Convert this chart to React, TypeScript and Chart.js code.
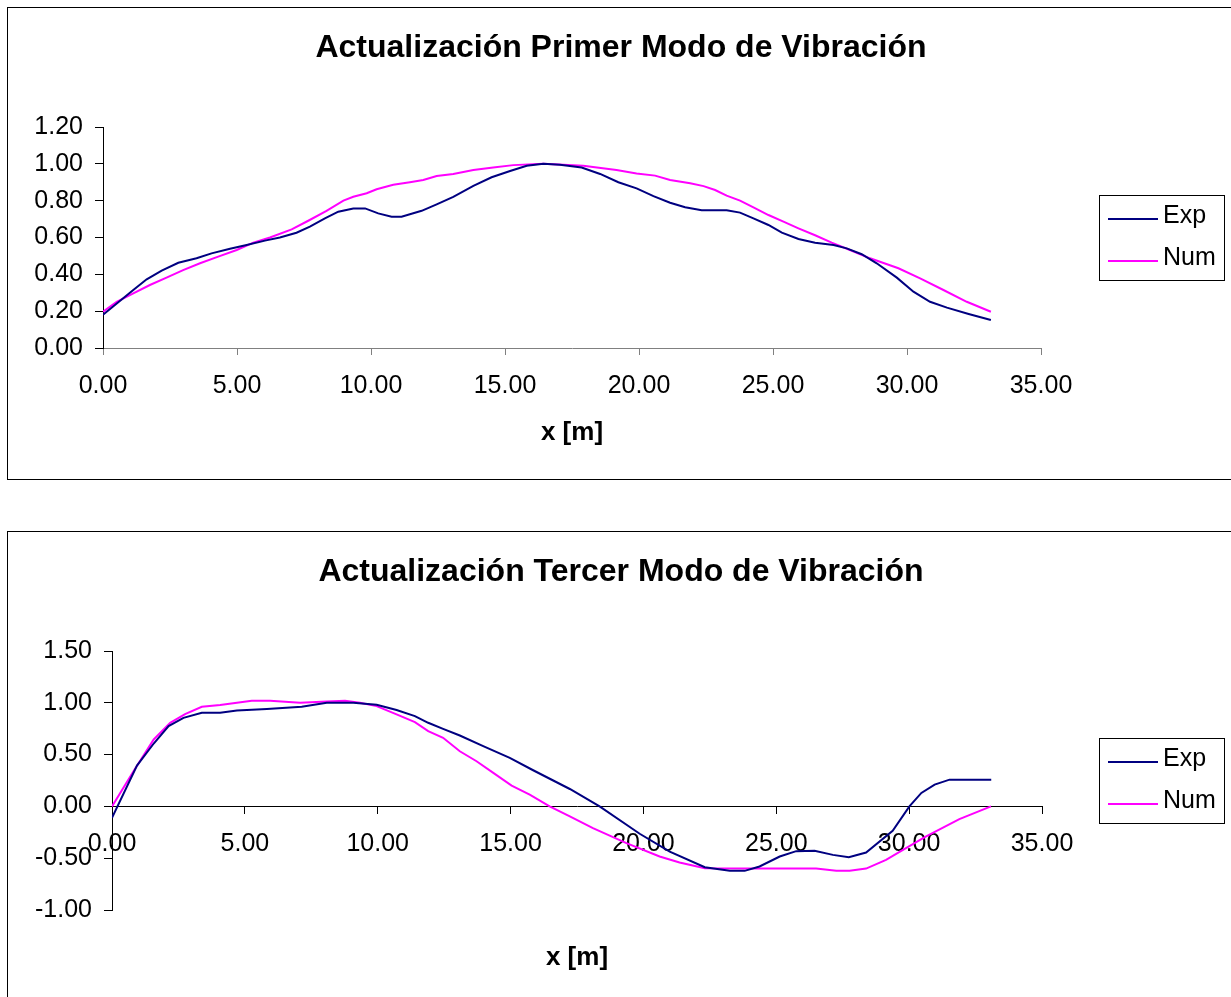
import React, { useEffect, useRef } from 'react';
import { Chart, registerables } from 'chart.js';

Chart.register(...registerables);

const FONT = '"Liberation Sans", Arial, sans-serif';

// ---------- Chart 1: Primer modo ----------
const TITLE_1 = 'Actualización Primer Modo de Vibración';
const exp1X = [0, 1.13, 1.63, 2.19, 2.81, 3.49, 4.05, 4.74, 5.36, 6.04, 6.6, 7.22, 7.72, 8.28, 8.78, 9.34, 9.78, 10.27, 10.77, 11.14, 11.89, 12.45, 13.07, 13.82, 14.5, 15.19, 15.81, 16.43, 17.05, 17.86, 18.55, 19.23, 19.91, 20.54, 21.16, 21.72, 22.34, 23.27, 23.77, 24.27, 24.83, 25.33, 25.95, 26.57, 27.26, 27.75, 28.31, 28.87, 29.62, 30.24, 30.86, 31.49, 32.3, 33.13];
const exp1Y = [0.18, 0.315, 0.373, 0.42, 0.463, 0.487, 0.514, 0.539, 0.559, 0.583, 0.6, 0.626, 0.659, 0.704, 0.74, 0.758, 0.758, 0.731, 0.713, 0.713, 0.745, 0.78, 0.821, 0.88, 0.927, 0.961, 0.99, 1.0, 0.995, 0.98, 0.945, 0.9, 0.867, 0.825, 0.789, 0.764, 0.748, 0.748, 0.735, 0.704, 0.668, 0.626, 0.592, 0.572, 0.559, 0.541, 0.509, 0.46, 0.382, 0.306, 0.251, 0.219, 0.185, 0.152];
const num1X = [0, 0.51, 1.13, 1.75, 2.37, 2.99, 3.62, 4.3, 4.99, 5.61, 6.23, 7.04, 7.66, 8.34, 8.97, 9.34, 9.84, 10.21, 10.83, 11.45, 11.95, 12.45, 13.07, 13.82, 14.56, 15.31, 16.43, 17.92, 19.16, 19.91, 20.6, 21.16, 21.91, 22.41, 22.84, 23.27, 23.77, 24.27, 24.83, 25.39, 25.95, 26.57, 27.19, 27.87, 28.62, 29.68, 30.49, 31.36, 32.23, 33.13];
const num1Y = [0.197, 0.25, 0.297, 0.342, 0.382, 0.423, 0.46, 0.496, 0.532, 0.572, 0.6, 0.644, 0.691, 0.745, 0.8, 0.821, 0.84, 0.862, 0.886, 0.9, 0.912, 0.934, 0.945, 0.966, 0.98, 0.993, 1.0, 0.99, 0.966, 0.948, 0.936, 0.912, 0.894, 0.879, 0.858, 0.827, 0.8, 0.764, 0.722, 0.686, 0.65, 0.612, 0.572, 0.532, 0.487, 0.433, 0.378, 0.315, 0.251, 0.197];
const y1Min = 0;
const y1Max = 1.2;
const y1Step = 0.2;

// ---------- Chart 2: Tercer modo ----------
const TITLE_2 = 'Actualización Tercer Modo de Vibración';
const exp2X = [0, 0.94, 1.57, 2.13, 2.69, 3.38, 4.07, 4.7, 5.83, 7.14, 8.08, 9.08, 9.96, 10.71, 11.4, 11.9, 12.46, 13.09, 13.97, 14.97, 15.85, 17.23, 18.35, 19.86, 20.99, 22.31, 23.25, 23.81, 24.37, 25.13, 25.75, 26.44, 27.13, 27.73, 28.38, 29.38, 30.01, 30.46, 30.96, 31.52, 33.09];
const exp2Y = [-0.11, 0.394, 0.607, 0.775, 0.855, 0.904, 0.904, 0.926, 0.94, 0.962, 1.0, 1.0, 0.981, 0.93, 0.872, 0.807, 0.749, 0.684, 0.581, 0.468, 0.349, 0.168, 0.0, -0.264, -0.436, -0.587, -0.622, -0.622, -0.58, -0.484, -0.432, -0.429, -0.468, -0.49, -0.445, -0.235, 0.0, 0.13, 0.21, 0.258, 0.258];
const num2X = [0, 0.81, 1.57, 2.19, 2.75, 3.38, 4.07, 5.26, 5.95, 7.08, 8.08, 8.77, 9.33, 9.96, 10.71, 11.4, 11.9, 12.46, 13.09, 13.72, 14.35, 15.04, 15.72, 16.47, 17.23, 18.1, 19.36, 20.61, 21.36, 22.31, 23.88, 26.5, 27.26, 27.76, 28.38, 29.13, 29.88, 30.64, 31.89, 33.08];
const num2Y = [0, 0.339, 0.646, 0.807, 0.891, 0.962, 0.978, 1.02, 1.02, 1.0, 1.013, 1.02, 1.0, 0.968, 0.888, 0.813, 0.726, 0.662, 0.532, 0.436, 0.323, 0.2, 0.113, 0.0, -0.097, -0.209, -0.354, -0.484, -0.542, -0.596, -0.6, -0.6, -0.622, -0.622, -0.6, -0.516, -0.403, -0.29, -0.122, 0.0];
const y2Min = -1.0;
const y2Max = 1.5;
const y2Step = 0.5;

// shared
const xMin = 0;
const xMax = 35;
const xStep = 5;
const X_TITLE = 'x [m]';
const SERIES = ['Exp', 'Num'];
const COLORS = ['#000080', '#FF00FF'];

const pts = (xs: number[], ys: number[]) => xs.map((x, i) => ({ x, y: ys[i] }));

const boxLegend = {
  id: 'boxLegend',
  afterDraw(chart: any, _args: any, opts: any) {
    const { ctx, chartArea } = chart;
    const w = opts.width;
    const h = opts.height;
    const left = Math.round(chartArea.right + opts.offsetX);
    const top = Math.round((chartArea.top + chartArea.bottom) / 2 - h / 2 + (opts.offsetY || 0));
    ctx.save();
    ctx.strokeStyle = '#000';
    ctx.lineWidth = 1;
    ctx.strokeRect(left + 0.5, top + 0.5, w, h);
    ctx.font = `${opts.fontSize}px ${FONT}`;
    ctx.textBaseline = 'middle';
    ctx.textAlign = 'left';
    chart.data.datasets.forEach((ds: any, i: number) => {
      const y = top + opts.firstRow + i * opts.rowGap;
      ctx.strokeStyle = ds.borderColor;
      ctx.lineWidth = ds.borderWidth;
      ctx.beginPath();
      ctx.moveTo(left + opts.lineStart, y);
      ctx.lineTo(left + opts.lineStart + opts.lineLen, y);
      ctx.stroke();
      ctx.fillStyle = '#000';
      ctx.fillText(ds.label, left + opts.textX, y - 3);
    });
    ctx.restore();
  },
};

function makeConfig(kind: 1 | 2): any {
  const isFirst = kind === 1;
  const expData = isFirst ? pts(exp1X, exp1Y) : pts(exp2X, exp2Y);
  const numData = isFirst ? pts(num1X, num1Y) : pts(num2X, num2Y);
  const tickFont = { family: FONT, size: 25 };
  const xAxisColor = isFirst ? '#808080' : '#000000';
  return {
    type: 'scatter',
    data: {
      datasets: [
        { label: SERIES[0], data: expData, borderColor: COLORS[0], backgroundColor: COLORS[0], borderWidth: 2, showLine: true, pointRadius: 0, tension: 0 },
        { label: SERIES[1], data: numData, borderColor: COLORS[1], backgroundColor: COLORS[1], borderWidth: 2, showLine: true, pointRadius: 0, tension: 0 },
      ],
    },
    plugins: [boxLegend],
    options: {
      responsive: false,
      animation: false,
      devicePixelRatio: 1,
      layout: { padding: { left: 0, right: 0, top: 0, bottom: isFirst ? 0 : 93 } },
      plugins: {
        legend: { display: false },
        tooltip: { enabled: false },
        title: {
          display: true,
          text: isFirst ? TITLE_1 : TITLE_2,
          color: '#000',
          font: { family: FONT, size: 32, weight: 'bold' },
          padding: { top: 20.8, bottom: 59.8 },
        },
        boxLegend: { width: 125, height: 85, offsetX: isFirst ? 58 : 57, offsetY: 0, fontSize: 25, firstRow: 24, rowGap: 42, lineStart: 9, lineLen: 50, textX: 64 },
      },
      scales: {
        x: {
          type: 'linear',
          position: isFirst ? 'bottom' : { y: 0 },
          min: xMin,
          max: xMax,
          ticks: { stepSize: xStep, color: '#000', font: tickFont, padding: 16, maxRotation: 0, callback: (v: number) => Number(v).toFixed(2) },
          grid: { display: true, drawOnChartArea: false, drawTicks: true, tickLength: 7, color: xAxisColor, lineWidth: 1 },
          border: { display: true, color: xAxisColor, width: 1 },
          title: { display: true, text: X_TITLE, color: '#000', font: { family: FONT, size: 26, weight: 'bold' }, padding: { top: 0, bottom: 30.4 } },
          afterFit: (s: any) => { s.height = isFirst ? 131 : 197.6; },
        },
        y: {
          type: 'linear',
          position: 'left',
          min: isFirst ? y1Min : y2Min,
          max: isFirst ? y1Max : y2Max,
          ticks: { stepSize: isFirst ? y1Step : y2Step, color: '#000', font: tickFont, padding: 12, callback: (v: number) => Number(v).toFixed(2) },
          grid: { display: true, drawOnChartArea: false, drawTicks: true, tickLength: 8, color: '#000', lineWidth: 1 },
          border: { display: true, color: '#000', width: 1 },
          afterFit: (s: any) => { s.width = isFirst ? 95 : 104; },
        },
        yPad: {
          type: 'linear',
          position: 'right',
          display: true,
          ticks: { display: false },
          grid: { display: false, drawTicks: false },
          border: { display: false },
          afterFit: (s: any) => { s.width = isFirst ? 193 : 192; },
        },
      },
    },
  };
}

function ChartCanvas({ kind }: { kind: 1 | 2 }) {
  const ref = useRef<HTMLCanvasElement>(null);
  useEffect(() => {
    if (!ref.current) return;
    const chart = new Chart(ref.current, makeConfig(kind));
    return () => chart.destroy();
  }, [kind]);
  return <canvas ref={ref} width={1226} height={471} style={{ display: 'block', width: 1226, height: 471 }} />;
}

export default function App() {
  return (
    <div style={{ position: 'fixed', left: 0, top: 0, right: 0, bottom: 0, overflow: 'hidden', background: '#fff' }}>
      <div style={{ position: 'absolute', left: 7, top: 7, width: 1240, height: 471, border: '1px solid #000', overflow: 'hidden' }}>
        <ChartCanvas kind={1} />
      </div>
      <div style={{ position: 'absolute', left: 7, top: 531, width: 1240, height: 471, border: '1px solid #000', overflow: 'hidden' }}>
        <ChartCanvas kind={2} />
      </div>
    </div>
  );
}
